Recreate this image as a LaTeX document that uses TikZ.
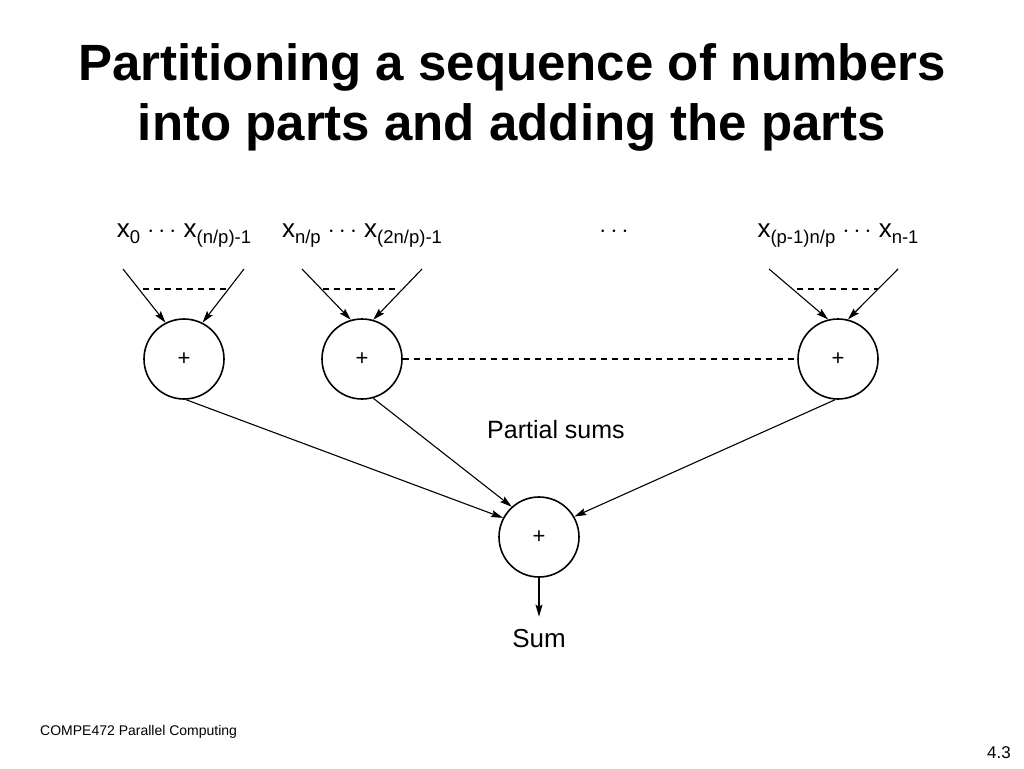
\documentclass[tikz,border=0pt]{standalone}
\usepackage{fontspec}
\setmainfont{Liberation Sans}
\usetikzlibrary{arrows.meta}
\newcommand\lowsub[1]{\raisebox{-.26em}{\fontsize{18.5}{18.5}\selectfont #1}}
\begin{document}
\begin{tikzpicture}
  [x=1pt,y=-1pt,
   adder/.style={circle,draw,line width=1.6pt,minimum size=80pt,inner sep=0pt,font=\fontsize{22}{22}\selectfont},
   label/.style={anchor=base,inner sep=0pt,font=\fontsize{26}{26}\selectfont},
   arr/.style={-{Stealth[length=12pt,width=7pt,inset=2pt]},line width=1.1pt},
   dotline/.style={dash pattern=on 6pt off 5pt,line width=1.3pt}]
  \useasboundingbox (0,0) rectangle (1024,768);

  % title
  \node[anchor=base,font=\fontsize{51}{51}\selectfont\bfseries] (title1) at (512,80) {Partitioning a sequence of numbers};
  \node[anchor=base,font=\fontsize{51}{51}\selectfont\bfseries] (title2) at (512,140) {into parts and adding the parts};

  % inputs
  \node[label] (in1) at (184,237) {x\lowsub{0} $\cdots$ x\lowsub{(n/p)-1}};
  \node[label] (in2) at (362,237) {x\lowsub{n/p} $\cdots$ x\lowsub{(2n/p)-1}};
  \node[label] (indots) at (614,237) {$\cdots$};
  \node[label] (in3) at (838,237) {x\lowsub{(p-1)n/p} $\cdots$ x\lowsub{n-1}};

  \coordinate (a1) at (123,269);
  \coordinate (b1) at (244,269);
  \coordinate (a2) at (302,269);
  \coordinate (b2) at (422,269);
  \coordinate (a3) at (769,269);
  \coordinate (b3) at (898,269);

  % adders
  \node[adder] (p1) at (184,359) {+};
  \node[adder] (p2) at (362,359) {+};
  \node[adder] (p3) at (838,359) {+};
  \node[adder] (s) at (539,537) {+};

  \node[anchor=base west,inner sep=0pt,font=\fontsize{25}{25}\selectfont] (psums) at (487,438) {Partial sums};
  \node[anchor=base,inner sep=0pt,font=\fontsize{26}{26}\selectfont] (sum) at (539,647) {Sum};

  \foreach \from/\to in {a1/p1.117,b1/p1.63,a2/p2.106,b2/p2.74,a3/p3.104,b3/p3.76}
    \draw[arr] (\from) -- (\to);

  \foreach \l/\r in {143/226,323/400,797/878}
    \draw[dotline] (\l,289) -- (\r,289);
  \draw[dotline] (p2.east) -- (p3.west);

  \foreach \from/\to in {p1.-87/s.152,p2.-74/s.132,p3.-94/s.30}
    \draw[arr] (\from) -- (\to);
  \draw[arr,shorten >=12pt] (s.south) -- (sum.north);

  % footer
  \node[anchor=base west,inner sep=0pt,font=\fontsize{14}{14}\selectfont] (foot) at (40,735) {COMPE472 Parallel Computing};
  \node[anchor=base east,inner sep=0pt,font=\fontsize{17}{17}\selectfont] (page) at (1011,758) {4.3};

\end{tikzpicture}
\end{document}
